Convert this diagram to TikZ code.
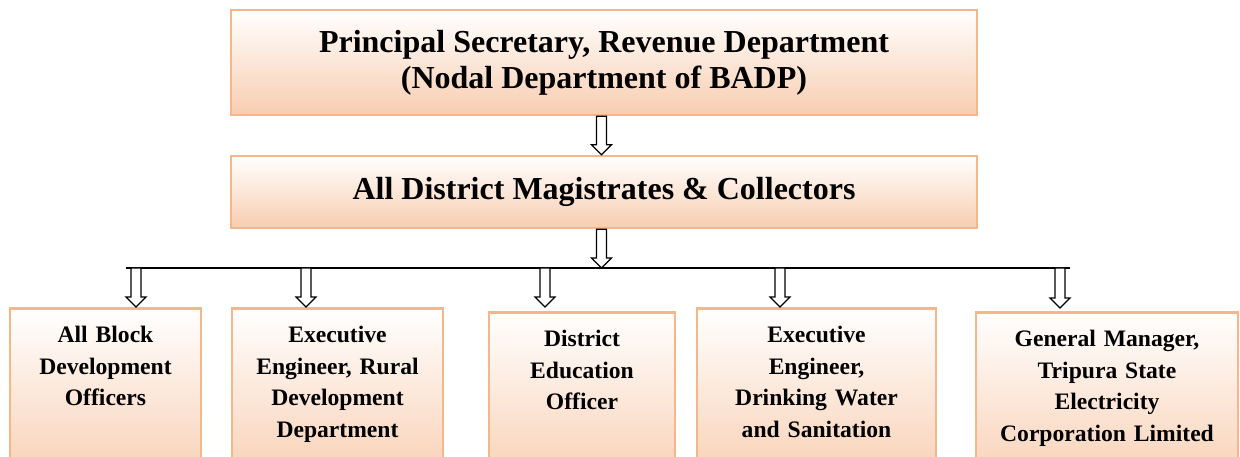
\documentclass[tikz,border=0pt]{standalone}
\usepackage{fontspec}
\setmainfont{Liberation Serif}
\usetikzlibrary{calc}
\definecolor{peach}{RGB}{248,205,176}
\definecolor{peachline}{RGB}{245,182,137}

\tikzset{
	orgbox/.style={draw=peachline, line width=2.5pt, top color=white, bottom color=peach, align=center, inner sep=0pt, font=\bfseries\fontsize{32}{36}\selectfont},
	lowbox/.style={draw=peachline, line width=2.5pt, top color=white, bottom color=peach, align=center, anchor=north, inner xsep=4pt, inner ysep=18pt, text depth=130pt, font=\bfseries\fontsize{23.6}{31.5}\selectfont},
	hollow/.style={draw=black, line width=1.2pt, fill=white, to path={let \p1=(\tikztostart), \p2=(\tikztotarget) in (\x1-5pt,\y1) -- (\x1+5pt,\y1) -- (\x1+5pt,\y2+10pt) -- (\x1+10pt,\y2+10pt) -- (\x1,\y2) -- (\x1-10pt,\y2+10pt) -- (\x1-5pt,\y2+10pt) -- cycle}}
}

\begin{document}
\begin{tikzpicture}[x=1pt, y=-1pt]
	\useasboundingbox (0,0) rectangle (1240,457);
	\clip (0,0) rectangle (1240,457);

	\node[orgbox, minimum width=746pt, minimum height=105pt] (psec) at (604,62.5) {Principal Secretary, Revenue Department\\(Nodal Department of BADP)};
	\node[orgbox, minimum width=746pt, minimum height=72pt] (dmc) at (604,192) {All District Magistrates \& Collectors};

	\node[lowbox, text width=183pt] (bdo) at (105.5,307) {All Block\\Development\\Officers};
	\node[lowbox, text width=203pt] (eerd) at (337.5,307) {Executive\\Engineer, Rural\\Development\\Department};
	\node[lowbox, text width=178pt] (deo) at (582,311) {District\\Education\\Officer};
	\node[lowbox, text width=231pt] (eedw) at (816.5,307) {Executive\\Engineer,\\Drinking Water\\and Sanitation};
	\node[lowbox, text width=254pt] (gmtsecl) at (1107,311) {General Manager,\\Tripura State\\Electricity\\Corporation Limited};

	\coordinate (spine) at (601.5,268);
	\coordinate (barleft) at (126,268);
	\coordinate (barright) at (1070,268);
	\coordinate (drop1) at (136,268);
	\coordinate (drop2) at (306,268);
	\coordinate (drop3) at (545,268);
	\coordinate (drop4) at (780,268);
	\coordinate (drop5) at (1060,268);

	\draw[line width=1.3pt] (barleft) -- (barright);
	\draw[hollow] (psec.south -| spine) to (dmc.north -| spine);
	\draw[hollow] (dmc.south -| spine) to (spine);
	\draw[hollow] (drop1) to (bdo.north -| drop1);
	\draw[hollow] (drop2) to (eerd.north -| drop2);
	\draw[hollow] (drop3) to ([yshift=4pt]deo.north -| drop3);
	\draw[hollow] (drop4) to (eedw.north -| drop4);
	\draw[hollow] (drop5) to ([yshift=3pt]gmtsecl.north -| drop5);
\end{tikzpicture}
\end{document}
